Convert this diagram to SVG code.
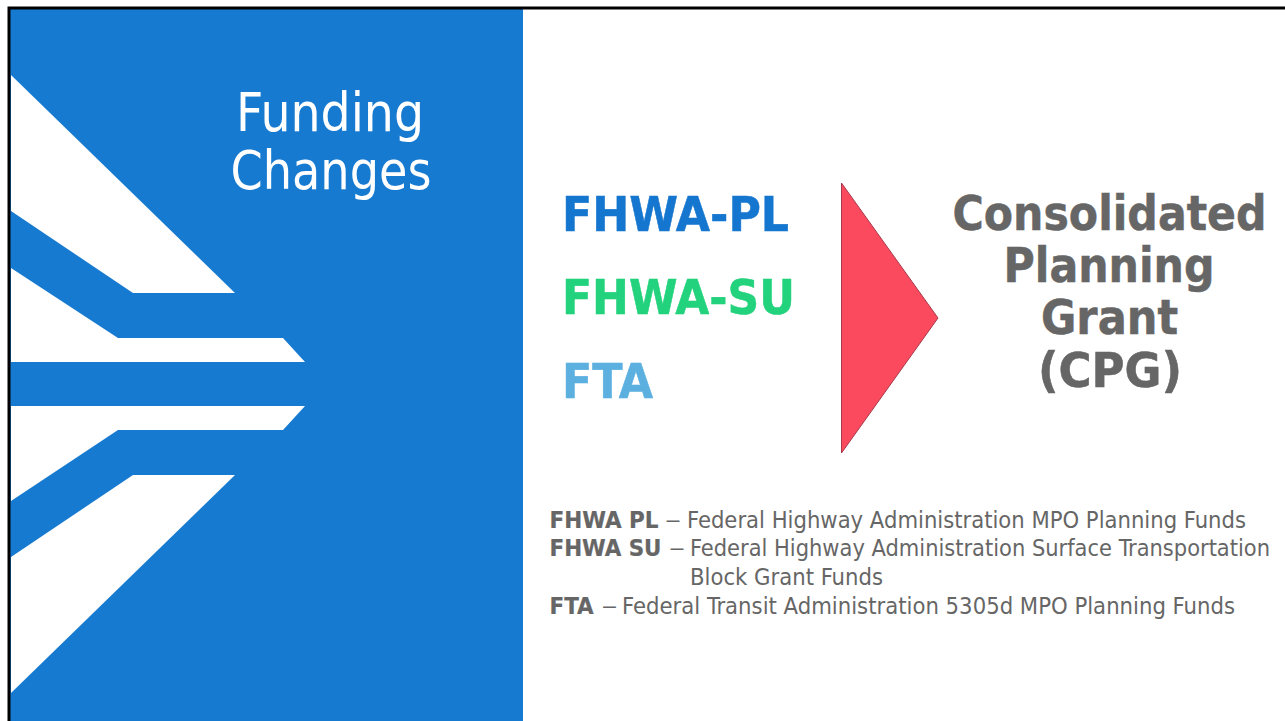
<svg xmlns="http://www.w3.org/2000/svg" width="1285" height="721" viewBox="0 0 1285 721">
<style>
text{font-family:"DejaVu Sans Condensed","DejaVu Sans",sans-serif}
.t{fill:#fff;font-size:54px;text-anchor:middle}
.k{font-size:48px;font-weight:700}
.c{fill:#666;font-size:48px;font-weight:700;text-anchor:middle;stroke:#666;stroke-width:.5}
.d{fill:#666;font-size:23.5px}
.d .b{font-weight:700;stroke:#666;stroke-width:.2}
.w{fill:#fff}
</style>
<defs><clipPath id="cut"><rect x="940" y="170" width="345" height="226"/></clipPath></defs>
<rect width="1285" height="721" fill="#fff"/>
<rect x="10" y="9" width="513" height="712" fill="#177ad1"/>
<path d="M9 721V8H1285" fill="none" stroke="#000" stroke-width="3"/>
<g id="chevrons">
<polygon class="w" points="11,75 235,293 133,293 11,211"/>
<polygon class="w" points="11,268 118,338 283,338 305,362 11,362"/>
<polygon class="w" points="11,406 305,406 283,430 118,430 11,501"/>
<polygon class="w" points="11,557 133,475 235,475 11,693"/>
</g>
<g id="title"><text class="t" x="330" y="131" textLength="188" lengthAdjust="spacingAndGlyphs">Funding</text><text class="t" x="331" y="189" textLength="201" lengthAdjust="spacingAndGlyphs">Changes</text></g>
<g id="fhwa-pl"><text class="k" x="562" y="230.500" fill="#1576cf" stroke="#1576cf" stroke-width=".5" textLength="227" lengthAdjust="spacingAndGlyphs">FHWA-PL</text></g>
<g id="fhwa-su"><text class="k" x="562" y="313.500" fill="#22d27c" stroke="#22d27c" stroke-width=".5" textLength="233" lengthAdjust="spacingAndGlyphs">FHWA-SU</text></g>
<g id="fta"><text class="k" x="562" y="397.500" fill="#5cb0e0" stroke="#5cb0e0" stroke-width=".5" textLength="91" lengthAdjust="spacingAndGlyphs">FTA</text></g>
<g id="arrow"><polygon points="841.500,183 938,318 841.500,453" fill="#fb4a5e" stroke="#a8394a" stroke-width="1"/></g>
<g id="cpg" clip-path="url(#cut)">
<text class="c" x="1109.500" y="230" textLength="314" lengthAdjust="spacingAndGlyphs">Consolidated</text>
<text class="c" x="1109" y="282" textLength="211" lengthAdjust="spacingAndGlyphs">Planning</text>
<text class="c" x="1109.500" y="334" textLength="137" lengthAdjust="spacingAndGlyphs">Grant</text>
<text class="c" x="1110" y="387" textLength="144" lengthAdjust="spacingAndGlyphs">(CPG)</text>
</g>
<g id="legend">
<text class="d" y="528"><tspan class="b" x="549.500" textLength="109" lengthAdjust="spacingAndGlyphs">FHWA PL</tspan><tspan x="665" textLength="16" lengthAdjust="spacingAndGlyphs">–</tspan><tspan x="687" textLength="559" lengthAdjust="spacingAndGlyphs">Federal Highway Administration MPO Planning Funds</tspan></text>
<text class="d" y="556"><tspan class="b" x="549.500" textLength="112" lengthAdjust="spacingAndGlyphs">FHWA SU</tspan><tspan x="669" textLength="16" lengthAdjust="spacingAndGlyphs">–</tspan><tspan x="690" textLength="580" lengthAdjust="spacingAndGlyphs">Federal Highway Administration Surface Transportation</tspan></text>
<text class="d" x="690" y="585" textLength="193" lengthAdjust="spacingAndGlyphs">Block Grant Funds</text>
<text class="d" y="614"><tspan class="b" x="549.500" textLength="44" lengthAdjust="spacingAndGlyphs">FTA</tspan><tspan x="601.500" textLength="16" lengthAdjust="spacingAndGlyphs">–</tspan><tspan x="622" textLength="613" lengthAdjust="spacingAndGlyphs">Federal Transit Administration 5305d MPO Planning Funds</tspan></text>
</g>
</svg>
